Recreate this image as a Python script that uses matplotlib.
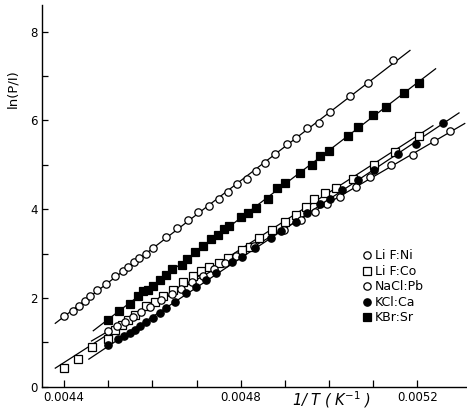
import numpy as np
import matplotlib
matplotlib.use("Agg")
import matplotlib.pyplot as plt

# 1/T values are given in units of 1e-4 K^-1
lif_ni_x = [44.00, 44.20, 44.34, 44.47, 44.59, 44.75, 44.95, 45.16, 45.34, 45.44,
            45.58, 45.70, 45.85, 46.01, 46.30, 46.55, 46.81, 47.04, 47.29, 47.51,
            47.71, 47.92, 48.14, 48.35, 48.54, 48.78, 49.05, 49.26, 49.50, 49.78,
            50.01, 50.48, 50.89, 51.44]
lif_ni_y = [1.59, 1.70, 1.83, 1.94, 2.05, 2.17, 2.32, 2.49, 2.61, 2.71,
            2.81, 2.90, 2.99, 3.12, 3.38, 3.57, 3.75, 3.93, 4.08, 4.24,
            4.38, 4.56, 4.68, 4.87, 5.05, 5.25, 5.46, 5.61, 5.84, 5.95,
            6.18, 6.55, 6.85, 7.35]

kbr_sr_x = [45.00, 45.24, 45.49, 45.67, 45.79, 45.91, 46.01, 46.18, 46.31, 46.45,
            46.67, 46.78, 46.97, 47.14, 47.32, 47.49, 47.61, 47.74, 48.00, 48.17,
            48.35, 48.61, 48.82, 49.01, 49.35, 49.61, 49.80, 50.00, 50.42, 50.66,
            51.00, 51.28, 51.70, 52.03]
kbr_sr_y = [1.50, 1.70, 1.87, 2.05, 2.15, 2.19, 2.28, 2.41, 2.52, 2.65,
            2.75, 2.88, 3.03, 3.18, 3.33, 3.42, 3.55, 3.63, 3.82, 3.91,
            4.02, 4.24, 4.47, 4.60, 4.82, 4.99, 5.19, 5.31, 5.64, 5.85,
            6.13, 6.30, 6.62, 6.84]

lif_co_x = [44.00, 44.31, 44.64, 45.00, 45.15, 45.30, 45.45, 45.60, 45.86, 46.05,
            46.24, 46.46, 46.69, 46.91, 47.10, 47.29, 47.51, 47.72, 48.02, 48.20,
            48.41, 48.70, 49.00, 49.24, 49.48, 49.65, 49.90, 50.15, 50.54, 51.02,
            51.49, 52.03]
lif_co_y = [0.43, 0.63, 0.89, 1.08, 1.29, 1.40, 1.50, 1.62, 1.81, 1.92,
            2.04, 2.19, 2.37, 2.49, 2.60, 2.69, 2.78, 2.90, 3.08, 3.16,
            3.35, 3.53, 3.72, 3.88, 4.06, 4.22, 4.37, 4.47, 4.67, 4.99,
            5.29, 5.64]

nacl_pb_x = [45.00, 45.20, 45.38, 45.55, 45.75, 45.95, 46.20, 46.45, 46.65, 46.90,
             47.15, 47.40, 47.65, 47.90, 48.30, 48.98, 49.37, 49.69, 49.95, 50.25,
             50.60, 50.93, 51.40, 51.89, 52.38, 52.73]
nacl_pb_y = [1.26, 1.37, 1.47, 1.58, 1.69, 1.80, 1.95, 2.10, 2.21, 2.36,
             2.50, 2.65, 2.80, 2.94, 3.17, 3.53, 3.76, 3.93, 4.12, 4.28,
             4.51, 4.72, 4.99, 5.22, 5.53, 5.76]

kcl_ca_x = [45.00, 45.22, 45.35, 45.49, 45.60, 45.71, 45.86, 46.01, 46.16, 46.31,
            46.50, 46.76, 46.99, 47.21, 47.44, 47.81, 48.02, 48.32, 48.68, 48.92,
            49.24, 49.50, 49.80, 50.03, 50.29, 50.66, 51.02, 51.56, 51.97, 52.58]
kcl_ca_y = [0.95, 1.08, 1.14, 1.21, 1.27, 1.36, 1.45, 1.55, 1.66, 1.77,
            1.92, 2.11, 2.26, 2.41, 2.56, 2.82, 2.92, 3.12, 3.35, 3.50,
            3.72, 3.91, 4.12, 4.22, 4.43, 4.66, 4.88, 5.25, 5.48, 5.94]

labels = ["Li F:Ni", "Li F:Co", "NaCl:Pb", "KCl:Ca", "KBr:Sr"]
# range of the fitted straight lines (1e-4 K^-1)
fit_ranges = [(43.80, 51.83), (43.80, 52.35), (44.62, 53.07), (44.56, 52.94), (44.66, 52.41)]

series = [(lif_ni_x, lif_ni_y, 'o', 'white', 5.3),
          (lif_co_x, lif_co_y, 's', 'white', 5.3),
          (nacl_pb_x, nacl_pb_y, 'o', 'white', 5.3),
          (kcl_ca_x, kcl_ca_y, 'o', 'black', 5.3),
          (kbr_sr_x, kbr_sr_y, 's', 'black', 5.3)]

fig = plt.figure(figsize=(4.67, 4.12), dpi=100)
ax = fig.add_axes([0.090, 0.061, 0.908, 0.927])

for (xs, ys, mk, fc, ms), lab, (x0, x1) in zip(series, labels, fit_ranges):
    xs = np.array(xs) * 1e-4
    ys = np.array(ys)
    # straight line fit drawn through the points
    k, b = np.polyfit(xs, ys, 1)
    xl = np.array([x0, x1]) * 1e-4
    ax.plot(xl, k * xl + b, color='black', lw=0.9, zorder=2)
    ax.plot(xs, ys, linestyle='none', marker=mk, ms=ms, mfc=fc, mec='black',
            mew=0.9, label=lab, zorder=3)

ax.set_xlim(43.50e-4, 53.10e-4)
ax.set_ylim(0, 8.6)

xt = np.arange(44, 53) * 1e-4
ax.set_xticks(xt)
ax.set_xticklabels(['0.0044' if i == 44 else '0.0048' if i == 48 else '0.0052' if i == 52 else ''
                    for i in range(44, 53)])
ax.set_yticks(range(0, 9))
ax.set_yticklabels([str(i) if i % 2 == 0 else '' for i in range(0, 9)])
ax.tick_params(direction='in', length=4, width=0.9, labelsize=8.5, pad=3)
ax.tick_params(axis='x', length=5)

for s in ['top', 'right']:
    ax.spines[s].set_visible(False)
for s in ['left', 'bottom']:
    ax.spines[s].set_linewidth(1.0)

fig.text(0.028, 0.785, 'ln(P/I)', rotation=90, ha='center', va='center', fontsize=9.5)
fig.text(0.709, 0.029, r'1/ T ( K$^{-1}$ )', ha='center', va='center', fontsize=10.5,
         fontstyle='italic')

ax.legend(loc='upper left', bbox_to_anchor=(0.755, 0.36), frameon=False,
          fontsize=9, handlelength=0.7, handletextpad=0.3, labelspacing=0.2,
          borderaxespad=0, borderpad=0)

plt.savefig("out.png", dpi=100)
